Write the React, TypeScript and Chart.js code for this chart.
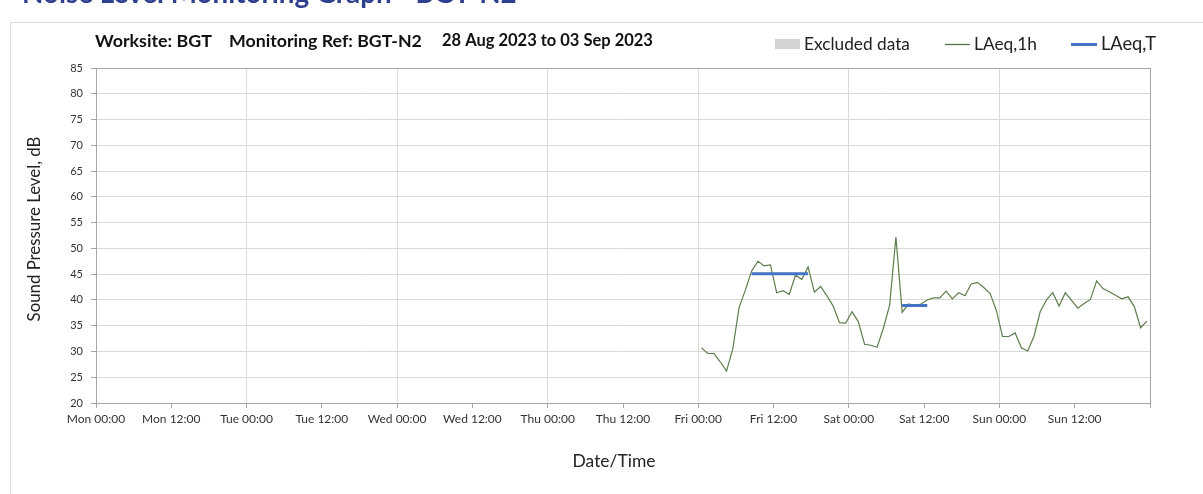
import React, { useEffect, useRef } from 'react';
import { Chart, registerables } from 'chart.js';

Chart.register(...registerables);

// ---- Data ----
const xTickLabels = [
  'Mon 00:00', 'Mon 12:00', 'Tue 00:00', 'Tue 12:00', 'Wed 00:00', 'Wed 12:00',
  'Thu 00:00', 'Thu 12:00', 'Fri 00:00', 'Fri 12:00', 'Sat 00:00', 'Sat 12:00',
  'Sun 00:00', 'Sun 12:00', '',
];
const yTickValues = [20, 25, 30, 35, 40, 45, 50, 55, 60, 65, 70, 75, 80, 85];

// LAeq,1h hourly values, Fri 00:00 .. Sun 23:00 (hours since Mon 00:00 start at 96)
const laeq1hStartHour = 96;
const laeq1hValues = [
  30.7, 29.6, 29.6, 28.0, 26.2, 30.5, 38.5, 41.9, 45.6, 47.5, 46.6, 46.8,
  41.4, 41.8, 41.1, 44.8, 44.0, 46.4, 41.5, 42.6, 40.8, 38.8, 35.6, 35.5,
  37.7, 35.8, 31.4, 31.2, 30.8, 34.5, 39.0, 52.2, 37.6, 39.2, 38.9, 39.2,
  40.0, 40.4, 40.4, 41.7, 40.2, 41.4, 40.8, 43.1, 43.4, 42.4, 41.3, 38.0,
  32.9, 32.9, 33.6, 30.7, 30.1, 32.9, 37.7, 40.0, 41.4, 38.8, 41.4, 39.9,
  38.4, 39.3, 40.1, 43.7, 42.2, 41.6, 40.9, 40.2, 40.6, 38.7, 34.6, 35.9,
];

// LAeq,T periods (hours since Mon 00:00)
const laeqTStart = [104.5, 128.5];
const laeqTEnd = [113.5, 132.5];
const laeqTValues = [45.1, 38.9];

const FONT = 'Lato, "Open Sans", sans-serif';

function fitText(ctx: CanvasRenderingContext2D, text: string, x: number, y: number, width: number, weight: string, color: string) {
  ctx.font = `${weight} 20px ${FONT}`;
  const w = ctx.measureText(text).width;
  const size = 20 * width / w;
  ctx.font = `${weight} ${size}px ${FONT}`;
  ctx.fillStyle = color;
  ctx.fillText(text, x, y);
}

const overlayPlugin = {
  id: 'overlay',
  afterDraw(chart: any) {
    const ctx: CanvasRenderingContext2D = chart.ctx;
    ctx.save();
    // frame
    ctx.strokeStyle = '#d9d9d9';
    ctx.lineWidth = 1;
    ctx.beginPath();
    ctx.moveTo(10.5, 494);
    ctx.lineTo(10.5, 22.5);
    ctx.lineTo(1203, 22.5);
    ctx.stroke();

    // clipped header above
    ctx.textBaseline = 'alphabetic';
    ctx.textAlign = 'left';
    fitText(ctx, 'Noise Level Monitoring Graph - BGT-N2', 22, 3, 495, 'bold', '#2f3f8f');

    // title
    ctx.textBaseline = 'middle';
    fitText(ctx, 'Worksite: BGT', 95, 41, 117, 'bold', '#111');
    fitText(ctx, 'Monitoring Ref: BGT-N2', 229, 41, 193, 'bold', '#111');
    fitText(ctx, '28 Aug 2023 to 03 Sep 2023', 442, 41, 211, 'bold', '#111');

    // legend
    ctx.fillStyle = '#d3d3d3';
    ctx.fillRect(775, 39, 25, 10);
    fitText(ctx, 'Excluded data', 804, 44, 106, 'normal', '#222');
    ctx.strokeStyle = '#4f6f3a';
    ctx.lineWidth = 1.2;
    ctx.beginPath();
    ctx.moveTo(945, 44.5);
    ctx.lineTo(970, 44.5);
    ctx.stroke();
    fitText(ctx, 'LAeq,1h', 974, 44, 63, 'normal', '#222');
    ctx.strokeStyle = '#4472c4';
    ctx.lineWidth = 3;
    ctx.beginPath();
    ctx.moveTo(1071, 44.5);
    ctx.lineTo(1097, 44.5);
    ctx.stroke();
    fitText(ctx, 'LAeq,T', 1101, 44, 55, 'normal', '#222');

    // axis titles
    ctx.textAlign = 'center';
    fitText(ctx, 'Date/Time', 614, 461, 83, 'normal', '#222');
    ctx.translate(35, 229);
    ctx.rotate(-Math.PI / 2);
    fitText(ctx, 'Sound Pressure Level, dB', 0, 0, 185, 'normal', '#222');
    ctx.restore();
  },
};

export default function App() {
  const canvasRef = useRef<HTMLCanvasElement | null>(null);

  useEffect(() => {
    document.body.style.margin = '0';
    const canvas = canvasRef.current!;
    const laeq1hData = laeq1hValues.map((v, i) => ({ x: laeq1hStartHour + i + 0.5, y: v }));
    const laeqTData: any[] = [];
    laeqTValues.forEach((v, i) => {
      if (i > 0) laeqTData.push({ x: laeqTStart[i] - 0.5, y: null });
      laeqTData.push({ x: laeqTStart[i], y: v });
      laeqTData.push({ x: laeqTEnd[i], y: v });
    });

    const chart = new Chart(canvas, {
      type: 'line',
      data: {
        datasets: [
          {
            label: 'LAeq,1h',
            data: laeq1hData,
            borderColor: '#5e7d4c',
            borderWidth: 1.2,
            pointRadius: 0,
            tension: 0,
            order: 2,
          },
          {
            label: 'LAeq,T',
            data: laeqTData,
            borderColor: '#4472c4',
            borderWidth: 3,
            pointRadius: 0,
            spanGaps: false,
            order: 1,
          },
        ],
      },
      options: {
        animation: false,
        responsive: false,
        devicePixelRatio: 1,
        layout: { padding: { left: 0, right: 53, top: 68, bottom: 0 } },
        plugins: {
          legend: { display: false },
          title: { display: false },
          tooltip: { enabled: false },
        },
        scales: {
          x: {
            type: 'linear',
            min: 0,
            max: 168,
            afterFit: (s: any) => { s.height = 91; },
            afterBuildTicks: (s: any) => {
              s.ticks = xTickLabels.map((_, i) => ({ value: i * 12 }));
            },
            ticks: {
              autoSkip: false,
              maxRotation: 0,
              padding: 4,
              color: '#333',
              font: { family: FONT, size: 12 },
              callback: (v: any) => xTickLabels[Math.round(Number(v) / 12)],
            },
            grid: {
              color: (c: any) => {
                const v = c.tick ? c.tick.value : 0;
                if (v === 168) return '#a6a6a6';
                if (v === 0 || v % 24 !== 0) return 'rgba(0,0,0,0)';
                return '#d9d9d9';
              },
              tickColor: '#a6a6a6',
              tickLength: 5,
            },
            border: { color: '#a6a6a6' },
          },
          y: {
            min: 20,
            max: 85,
            afterFit: (s: any) => { s.width = 96; },
            afterBuildTicks: (s: any) => {
              s.ticks = yTickValues.map((v) => ({ value: v }));
            },
            ticks: {
              padding: 8,
              color: '#333',
              font: { family: FONT, size: 11 },
            },
            grid: {
              color: (c: any) => {
                const v = c.tick ? c.tick.value : 0;
                if (v === 85) return '#a6a6a6';
                return '#d9d9d9';
              },
              tickColor: '#a6a6a6',
              tickLength: 5,
            },
            border: { color: '#a6a6a6' },
          },
        },
      },
      plugins: [overlayPlugin],
    } as any);

    return () => chart.destroy();
  }, []);

  return (
    <div style={{ width: 1203, height: 494, background: '#fff' }}>
      <canvas ref={canvasRef} width={1203} height={494} style={{ display: 'block' }} />
    </div>
  );
}
